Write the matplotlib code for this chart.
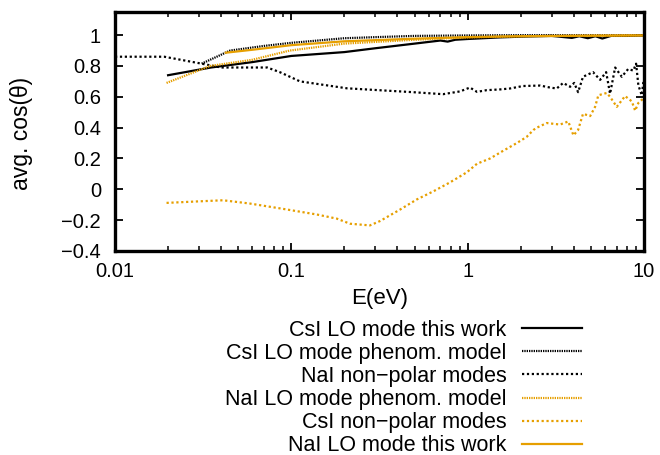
import matplotlib
matplotlib.use("Agg")
import matplotlib.pyplot as plt
import numpy as np

plt.rcParams['font.family'] = ['Liberation Sans', 'DejaVu Sans']

ORANGE = "#e69f00"

# CsI LO mode this work
csi_lo_E = [0.02, 0.035, 0.06, 0.1, 0.2, 0.3, 0.5, 0.7, 0.77, 0.85, 1.0, 1.5, 2.0, 3.0,
            3.9, 4.3, 4.8, 5.3, 5.8, 6.5, 8.0, 10.0]
csi_lo_v = [0.74, 0.79, 0.825, 0.865, 0.89, 0.915, 0.945, 0.965, 0.958, 0.97, 0.975, 0.985,
            0.99, 0.995, 0.982, 0.993, 0.98, 0.993, 0.978, 0.995, 0.995, 0.998]

# CsI LO mode phenom. model
csi_ph_E = [0.031, 0.045, 0.07, 0.1, 0.2, 0.32, 0.5, 1.0, 2.0, 5.0, 10.0]
csi_ph_v = [0.815, 0.9, 0.93, 0.95, 0.98, 0.988, 0.995, 0.998, 1.0, 1.0, 1.0]

# NaI non-polar modes
nai_np_E = [0.01, 0.019, 0.031, 0.04, 0.073, 0.086, 0.112, 0.207, 0.49, 0.725, 0.905, 1.03,
            1.13, 1.28, 1.53, 1.74, 2.06, 2.58, 2.93, 3.2, 3.48, 3.81, 4.02, 4.23, 4.51,
            5.14, 5.64, 6.10, 6.42, 6.86, 7.48, 8.13, 8.7, 9.02, 9.29, 9.71, 9.93]
nai_np_v = [0.86, 0.86, 0.815, 0.79, 0.79, 0.76, 0.70, 0.655, 0.63, 0.617, 0.635, 0.66,
            0.632, 0.643, 0.648, 0.654, 0.67, 0.673, 0.66, 0.654, 0.69, 0.665, 0.69, 0.63,
            0.73, 0.76, 0.71, 0.76, 0.62, 0.79, 0.73, 0.78, 0.77, 0.815, 0.675, 0.61, 0.70]

# NaI LO mode phenom. model
nai_ph_E = [0.0196, 0.0346, 0.06, 0.098, 0.2, 0.5, 1.0, 2.0, 5.0, 10.0]
nai_ph_v = [0.69, 0.80, 0.84, 0.90, 0.945, 0.97, 0.985, 0.993, 0.997, 0.999]

# CsI non-polar modes
csi_np_E = [0.0196, 0.03, 0.041, 0.058, 0.09, 0.139, 0.181, 0.215, 0.279, 0.318, 0.414,
            0.514, 0.639, 0.794, 0.988, 1.13, 1.34, 1.59, 1.90, 2.16, 2.36, 2.47, 2.81,
            3.34, 3.72, 3.98, 4.23, 4.51, 4.95, 5.28, 5.51, 6.15, 6.42, 7.01, 7.81, 8.53,
            8.91, 9.29, 9.93]
csi_np_v = [-0.088, -0.078, -0.071, -0.092, -0.127, -0.163, -0.19, -0.223, -0.234, -0.206,
            -0.131, -0.066, -0.013, 0.045, 0.11, 0.166, 0.20, 0.25, 0.30, 0.34, 0.385, 0.40,
            0.43, 0.42, 0.44, 0.35, 0.385, 0.49, 0.475, 0.535, 0.61, 0.625, 0.60, 0.535,
            0.605, 0.57, 0.51, 0.56, 0.59]

# NaI LO mode this work
nai_lo_E = [0.0425, 0.06, 0.1, 0.2, 0.5, 1.0, 2.0, 5.0, 10.0]
nai_lo_v = [0.886, 0.905, 0.935, 0.96, 0.977, 0.987, 0.993, 0.996, 0.998]

yticks = [-0.4, -0.2, 0, 0.2, 0.4, 0.6, 0.8, 1]
xticks = [0.01, 0.1, 1, 10]
xticklabels = ["0.01", "0.1", "1", "10"]

dense = (0, (0.6, 0.45))
sparse = (0, (1.0, 1.2))

fig = plt.figure(figsize=(6.6, 4.55), dpi=100)
ax = fig.add_axes([115 / 660, 1 - 251 / 455, 529 / 660, 239 / 455])

ax.plot(csi_lo_E, csi_lo_v, color="black", lw=1.6, label="CsI LO mode this work")
ax.plot(csi_ph_E, csi_ph_v, color="black", lw=1.6, ls=dense, label="CsI LO mode phenom. model")
ax.plot(nai_np_E, nai_np_v, color="black", lw=1.6, ls=sparse, label="NaI non\u2212polar modes")
ax.plot(nai_ph_E, nai_ph_v, color=ORANGE, lw=1.6, ls=dense, label="NaI LO mode phenom. model")
ax.plot(csi_np_E, csi_np_v, color=ORANGE, lw=1.6, ls=sparse, label="CsI non\u2212polar modes")
ax.plot(nai_lo_E, nai_lo_v, color=ORANGE, lw=1.6, label="NaI LO mode this work")

ax.set_xscale("log")
ax.set_xlim(0.01, 10)
ax.set_ylim(-0.4, 1.15)
ax.set_xticks(xticks)
ax.set_xticklabels(xticklabels)
ax.set_yticks(yticks)
ax.set_yticklabels([("%g" % t).replace("-", "\u2212") for t in yticks])

for s in ax.spines.values():
    s.set_linewidth(2.4)
ax.tick_params(which="both", direction="in", top=True, right=True, labelsize=14.5)
ax.tick_params(which="major", length=6, width=1.3)
ax.tick_params(axis="x", which="major", pad=8)
ax.tick_params(axis="y", which="major", pad=10)
ax.tick_params(which="minor", length=3.5, width=1.1)

ax.set_xlabel("E(eV)", fontsize=16)
ax.xaxis.set_label_coords(0.5, -0.155)
ax.set_ylabel("avg. cos(\u03b8)", fontsize=16.5)
ax.yaxis.set_label_coords(-0.155, 0.49)

leg = ax.legend(loc="center right", bbox_to_anchor=(582 / 660, 1 - 388 / 455),
                bbox_transform=fig.transFigure, frameon=False, markerfirst=False,
                fontsize=15.5, handlelength=2.8, handletextpad=0.7, labelspacing=0.1,
                borderpad=0, borderaxespad=0)

fig.savefig("out.png", dpi=100)
